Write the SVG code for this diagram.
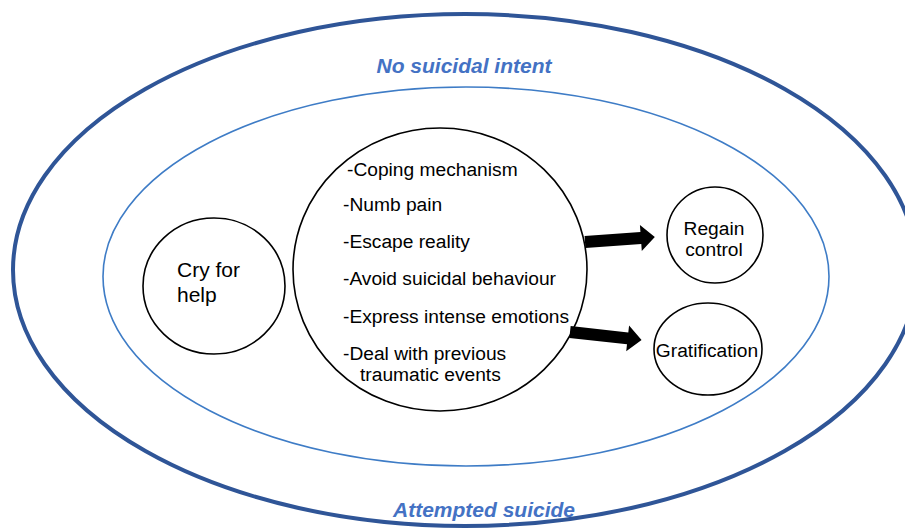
<svg xmlns="http://www.w3.org/2000/svg" width="905" height="528" viewBox="0 0 905 528">
<style>
.bg{fill:#ffffff}
.outer{fill:none;stroke:#2F5597;stroke-width:4}
.inner{fill:none;stroke:#3E7CC6;stroke-width:1.6}
.node{fill:#ffffff;stroke:#000000;stroke-width:1.6}
.lbl{font-family:"Liberation Sans",Arial,sans-serif;font-size:19.2px;fill:#000000}
.big{font-size:21px}
.zone{font-family:"Liberation Sans",Arial,sans-serif;font-size:21px;font-weight:bold;font-style:italic;fill:#4472C4;text-anchor:middle}
.arrow{fill:#000000}
</style>
<rect class="bg" x="0" y="0" width="905" height="528"/>
<g id="zone-attempted">
<ellipse class="outer" cx="465" cy="270" rx="452" ry="256"/>
<text class="zone" x="484" y="517">Attempted suicide</text>
</g>
<g id="zone-no-intent">
<ellipse class="inner" cx="466" cy="276.5" rx="363" ry="189.5"/>
<text class="zone" x="464" y="73">No suicidal intent</text>
</g>
<g id="node-cry">
<ellipse class="node" cx="214" cy="286" rx="71" ry="68"/>
<text class="lbl big" x="177" y="277">Cry for</text>
<text class="lbl big" x="177" y="302">help</text>
</g>
<g id="node-reasons">
<ellipse class="node" cx="440" cy="269.5" rx="147" ry="141.5"/>
<text class="lbl" x="347" y="176">-Coping mechanism</text>
<text class="lbl" x="343" y="211">-Numb pain</text>
<text class="lbl" x="343" y="248">-Escape reality</text>
<text class="lbl" x="343" y="285">-Avoid suicidal behaviour</text>
<text class="lbl" x="343" y="323">-Express intense emotions</text>
<text class="lbl" x="343" y="360">-Deal with previous</text>
<text class="lbl" x="360" y="381">traumatic events</text>
</g>
<g id="node-regain">
<circle class="node" cx="715" cy="235" r="48"/>
<text class="lbl" x="714" y="235" text-anchor="middle">Regain</text>
<text class="lbl" x="714" y="256" text-anchor="middle">control</text>
</g>
<g id="node-gratification">
<ellipse class="node" cx="708" cy="349" rx="54" ry="46"/>
<text class="lbl" x="707" y="357" text-anchor="middle">Gratification</text>
</g>
<g id="connectors">
<polygon class="arrow" transform="translate(585,242) rotate(-4.1)" points="0,-6 56,-6 56,-13 70,0 56,13 56,6 0,6"/>
<polygon class="arrow" transform="translate(570,332) rotate(6.3)" points="0,-6 58,-6 58,-13 72,0 58,13 58,6 0,6"/>
</g>
</svg>
